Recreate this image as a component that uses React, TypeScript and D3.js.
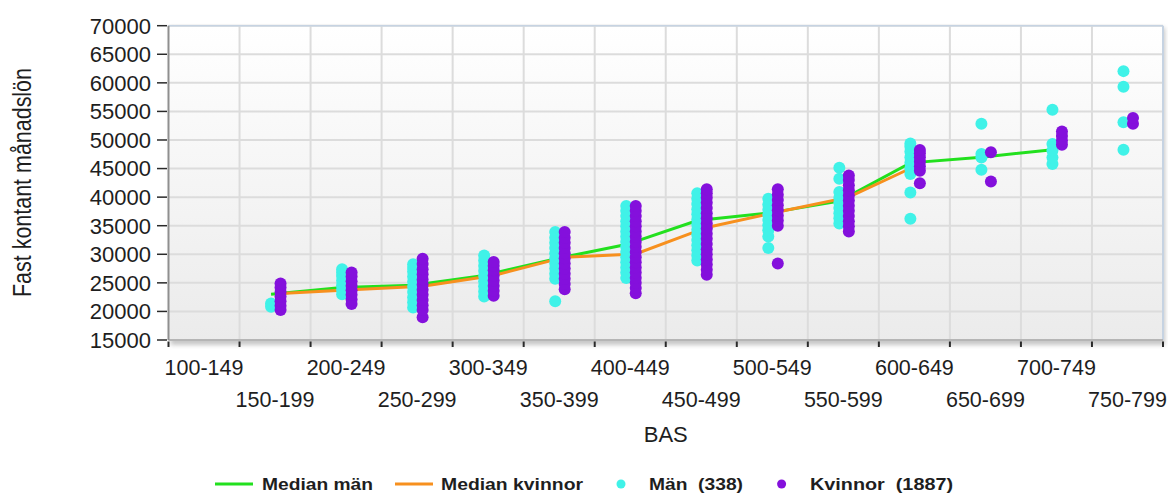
import React from "react";
import * as d3 from "d3";

const categories = ["100-149","150-199","200-249","250-299","300-349","350-399","400-449","450-499","500-549","550-599","600-649","650-699","700-749","750-799"];

const menPoints: number[][] = [
  [],
  [20800, 21400],
  [23000, 23800, 24600, 25400, 26200, 26800, 27400],
  [20700, 21600, 22500, 23400, 24300, 25200, 26100, 27000, 27600, 28250],
  [22600, 23500, 24400, 25300, 26200, 27100, 28000, 28900, 29800],
  [21800, 25700, 26600, 27500, 28400, 29300, 30200, 31100, 32000, 32900, 33900],
  [25850, 26800, 27700, 28600, 29500, 30400, 31300, 32200, 33100, 34000, 34900, 35800, 36700, 37600, 38450],
  [28900, 29800, 30700, 31600, 32500, 33400, 34300, 35200, 36100, 37000, 37900, 38800, 39700, 40670],
  [31100, 33100, 34200, 35100, 36000, 36900, 37800, 38700, 39700],
  [35400, 36300, 37200, 38100, 39000, 39900, 40900, 43200, 45150],
  [36200, 40800, 44050, 45000, 46000, 47000, 48000, 48800, 49400],
  [44800, 46950, 47550, 52850],
  [45800, 46950, 48150, 49300, 55300],
  [48300, 53100, 59300, 62050],
];

const womenPoints: number[][] = [
  [],
  [20250, 21000, 21800, 22600, 23400, 24200, 24900],
  [21300, 22100, 22900, 23700, 24500, 25300, 26100, 26800],
  [19000, 20250, 21100, 22000, 22900, 23800, 24700, 25600, 26500, 27400, 28300, 29200],
  [22750, 23600, 24500, 25400, 26300, 27200, 28000, 28650],
  [23900, 24800, 25700, 26600, 27500, 28400, 29300, 30200, 31100, 32000, 32900, 33900],
  [23200, 24100, 25000, 25900, 26800, 27700, 28600, 29500, 30400, 31300, 32200, 33100, 34000, 34900, 35800, 36700, 37600, 38450],
  [26400, 27300, 28200, 29100, 30000, 30900, 31800, 32700, 33600, 34500, 35400, 36300, 37200, 38100, 39000, 39900, 40700, 41370],
  [28400, 35000, 35900, 36800, 37700, 38600, 39500, 40400, 41370],
  [34000, 34900, 35800, 36700, 37600, 38500, 39400, 40300, 41200, 42100, 43000, 43800],
  [42450, 44600, 45400, 46200, 47000, 47700, 48250],
  [42750, 47850],
  [49150, 49900, 50700, 51500],
  [52850, 53850],
];

const menMedian: (number | null)[] = [null, 23000, 24200, 24600, 26300, 29200, 31700, 35900, 37200, 39300, 46000, 47000, 48300, null];
const womenMedian: (number | null)[] = [null, 23150, 23800, 24400, 26300, 29500, 30050, 34700, 37400, 40000, 45800, null, null, null];

const yTicks = [15000, 20000, 25000, 30000, 35000, 40000, 45000, 50000, 55000, 60000, 65000, 70000];

const legendItems = [
  { label: "Median män", kind: "line", color: "#22e01e" },
  { label: "Median kvinnor", kind: "line", color: "#f7901e" },
  { label: "Män  (338)", kind: "dot", color: "#40f2e8" },
  { label: "Kvinnor  (1887)", kind: "dot", color: "#8410dc" },
];

const MEN = "#40f2e8";
const WOMEN = "#8410dc";

export default function App() {
  const W = 1168, H = 493;
  const x0 = 168.5, x1 = 1163, yTop = 25.7, yBot = 340;
  const x = d3.scaleBand<string>().domain(categories).range([x0, x1]).paddingInner(0).paddingOuter(0);
  const y = d3.scaleLinear().domain([15000, 70000]).range([yBot, yTop]);
  const bw = x.bandwidth();
  const cx = (i: number) => (x(categories[i]) as number) + bw / 2;
  const menOff = -4, womenOff = 5.5;

  const mkLine = (off: number) =>
    d3.line<number | null>()
      .defined((d) => d != null)
      .x((_, i) => cx(i) + off)
      .y((d) => y(d as number));

  const boundaries = d3.range(categories.length + 1).map((i) => x0 + i * bw);

  const legendX = [215, 395, 621, 781.6];
  const legendTextX = [262, 441, 649, 810];
  const legendTextLen = [111, 142, 94, 143];

  return (
    <svg width={W} height={H} style={{ display: "block", position: "absolute", left: 0, top: 0 }}>
      <defs>
        <linearGradient id="bg" x1="0" y1="0" x2="0" y2="1">
          <stop offset="0" stopColor="#ffffff" />
          <stop offset="1" stopColor="#ebebeb" />
        </linearGradient>
        <filter id="blur" x="-5%" y="-5%" width="110%" height="120%">
          <feGaussianBlur stdDeviation="2" />
        </filter>
      </defs>
      <rect x={0} y={0} width={W} height={H} fill="#ffffff" />
      <rect x={x0 + 2} y={yTop + 2} width={x1 - x0} height={yBot - yTop + 3} fill="#9a9a9a" opacity={0.55} filter="url(#blur)" />
      <rect x={x0} y={yTop} width={x1 - x0} height={yBot - yTop} fill="url(#bg)" />
      {yTicks.map((t) => (
        <line key={"hg" + t} x1={x0} x2={x1} y1={y(t)} y2={y(t)} stroke="#dcdcdc" strokeWidth={2} />
      ))}
      {boundaries.slice(1, -1).map((b, i) => (
        <line key={"vg" + i} x1={b} x2={b} y1={yTop} y2={yBot} stroke="#dcdcdc" strokeWidth={2} />
      ))}
      <line x1={x0} x2={x1} y1={yTop} y2={yTop} stroke="#c6d3e2" strokeWidth={1.5} />
      <line x1={x1} x2={x1} y1={yTop} y2={yBot} stroke="#c6d3e2" strokeWidth={2} />
      <line x1={x0} x2={x1} y1={yBot} y2={yBot} stroke="#a8a8a8" strokeWidth={1.5} />
      <line x1={x0} x2={x0} y1={yTop} y2={yBot} stroke="#8f8f8f" strokeWidth={2} />

      {yTicks.map((t) => (
        <g key={"yt" + t}>
          <line x1={157} x2={167} y1={y(t)} y2={y(t)} stroke="#2a2a2a" strokeWidth={1.5} />
          <text x={151} y={y(t)} dy="0.36em" textAnchor="end" fontFamily="Liberation Sans, Arial, sans-serif" fontSize={22} fill="#1e1e1e">{t}</text>
        </g>
      ))}
      {boundaries.map((b, i) => (
        <line key={"xt" + i} x1={b} x2={b} y1={yBot + 1.5} y2={yBot + 7} stroke="#2a2a2a" strokeWidth={2} />
      ))}
      {categories.map((c, i) => (
        <text key={"xl" + c} x={cx(i)} y={i % 2 === 0 ? 375 : 406.5} textAnchor="middle" fontFamily="Liberation Sans, Arial, sans-serif" fontSize={21.5} fill="#1e1e1e">{c}</text>
      ))}
      <text x={(x0 + x1) / 2} y={441.5} textAnchor="middle" fontFamily="Liberation Sans, Arial, sans-serif" fontSize={22} fill="#1e1e1e">BAS</text>
      <text transform="translate(30.5,182.5) rotate(-90)" textAnchor="middle" fontFamily="Liberation Sans, Arial, sans-serif" fontSize={25.5} textLength={229} lengthAdjust="spacingAndGlyphs" fill="#1e1e1e">Fast kontant månadslön</text>

      <path d={mkLine(menOff)(menMedian) || ""} fill="none" stroke="#22e01e" strokeWidth={3} />
      <path d={mkLine(womenOff)(womenMedian) || ""} fill="none" stroke="#f7901e" strokeWidth={3} />

      {menPoints.map((vals, i) =>
        vals.map((v, j) => <circle key={"m" + i + "-" + j} cx={cx(i) + menOff} cy={y(v)} r={6} fill={MEN} />)
      )}
      {womenPoints.map((vals, i) =>
        vals.map((v, j) => <circle key={"w" + i + "-" + j} cx={cx(i) + womenOff} cy={y(v)} r={6} fill={WOMEN} />)
      )}

      {legendItems.map((it, i) => (
        <g key={"lg" + i}>
          {it.kind === "line" ? (
            <line x1={legendX[i]} x2={legendX[i] + 38} y1={484} y2={484} stroke={it.color} strokeWidth={3} />
          ) : (
            <circle cx={legendX[i]} cy={484} r={4.5} fill={it.color} />
          )}
          <text x={legendTextX[i]} y={490} fontFamily="Liberation Sans, Arial, sans-serif" fontWeight="bold" fontSize={17} textLength={legendTextLen[i]} lengthAdjust="spacingAndGlyphs" fill="#1e1e1e" style={{ whiteSpace: "pre" }}>{it.label}</text>
        </g>
      ))}
    </svg>
  );
}
